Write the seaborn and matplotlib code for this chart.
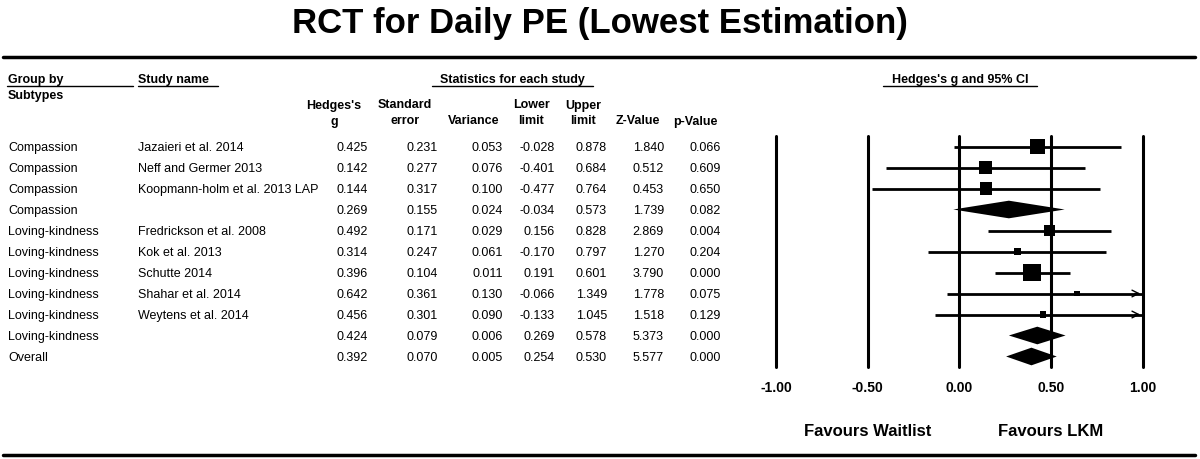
import pandas as pd
import matplotlib.pyplot as plt
import seaborn as sns

# Datos del forest plot
groups = ["Compassion"] * 4 + ["Loving-kindness"] * 6 + ["Overall"]
studies = ["Jazaieri et al. 2014", "Neff and Germer 2013", "Koopmann-holm et al. 2013 LAP", "",
           "Fredrickson et al. 2008", "Kok et al. 2013", "Schutte 2014", "Shahar et al. 2014",
           "Weytens et al. 2014", "", ""]
hedges_g = [0.425, 0.142, 0.144, 0.269, 0.492, 0.314, 0.396, 0.642, 0.456, 0.424, 0.392]
std_err = [0.231, 0.277, 0.317, 0.155, 0.171, 0.247, 0.104, 0.361, 0.301, 0.079, 0.070]
variance = [0.053, 0.076, 0.100, 0.024, 0.029, 0.061, 0.011, 0.130, 0.090, 0.006, 0.005]
lower = [-0.028, -0.401, -0.477, -0.034, 0.156, -0.170, 0.191, -0.066, -0.133, 0.269, 0.254]
upper = [0.878, 0.684, 0.764, 0.573, 0.828, 0.797, 0.601, 1.349, 1.045, 0.578, 0.530]
z_value = [1.840, 0.512, 0.453, 1.739, 2.869, 1.270, 3.790, 1.778, 1.518, 5.373, 5.577]
p_value = [0.066, 0.609, 0.650, 0.082, 0.004, 0.204, 0.000, 0.075, 0.129, 0.000, 0.000]
is_summary = [False, False, False, True, False, False, False, False, False, True, True]
rel_weight = [41, 31, 28, 0, 22, 9, 57, 6, 7, 0, 0]
axis_ticks = [-1.0, -0.5, 0.0, 0.5, 1.0]

df = pd.DataFrame({
    "row": range(len(groups)), "group": groups, "study": studies, "g": hedges_g,
    "se": std_err, "var": variance, "lo": lower, "hi": upper, "z": z_value,
    "p": p_value, "summary": is_summary, "w": rel_weight,
})

sns.set_theme(style="white")
plt.rcParams['font.family'] = ['Liberation Sans', 'DejaVu Sans']
plt.rcParams['text.color'] = 'black'
plt.rcParams['xtick.color'] = 'black'

W, H = 1200, 459
fig = plt.figure(figsize=(12, 4.59), dpi=100)

# Capa de fondo en pixeles para textos y lineas
bg = fig.add_axes([0, 0, 1, 1])
bg.set_xlim(0, W)
bg.set_ylim(H, 0)
bg.axis('off')

bg.text(600, 24, "RCT for Daily PE (Lowest Estimation)", ha='center', va='center',
        fontsize=25, fontweight='bold')
bg.plot([3, 1195], [57, 57], color='black', lw=2.5)
bg.plot([3, 1195], [455, 455], color='black', lw=2.5)

# Encabezados
hdr = dict(fontsize=9, fontweight='bold', va='center_baseline')
bg.text(8, 78, "Group by", ha='left', **hdr)
bg.text(8, 94, "Subtypes", ha='left', **hdr)
bg.plot([7, 133], [86, 86], color='black', lw=1)
bg.text(138, 78, "Study name", ha='left', **hdr)
bg.plot([138, 218], [86, 86], color='black', lw=1)
bg.text(512, 78, "Statistics for each study", ha='center', **hdr)
bg.plot([432, 593], [86, 86], color='black', lw=1)
bg.text(960, 78, "Hedges's g and 95% CI", ha='center', **hdr)
bg.plot([883, 1037], [86, 86], color='black', lw=1)

col_heads = [("Hedges's", "g", 334), ("Standard", "error", 405), ("", "Variance", 474),
             ("Lower", "limit", 531), ("Upper", "limit", 583), ("", "Z-Value", 638),
             ("", "p-Value", 695)]
for top, bot, xc in col_heads:
    bg.text(xc, 104, top, ha='center', **hdr)
    bg.text(xc, 120, bot, ha='center', **hdr)

# Filas de la tabla
row_y0, row_h = 146.5, 21
col_right = [368, 438, 503, 555, 607, 664, 721]
for _, r in df.iterrows():
    y = row_y0 + r["row"] * row_h
    bg.text(8, y, r["group"], ha='left', va='center_baseline', fontsize=9)
    bg.text(138, y, r["study"], ha='left', va='center_baseline', fontsize=9)
    vals = [r["g"], r["se"], r["var"], r["lo"], r["hi"], r["z"], r["p"]]
    for xr, v in zip(col_right, vals):
        bg.text(xr, y, f"{v:.3f}", ha='right', va='center_baseline', fontsize=9)

# Forest plot
n = len(df)
fax = fig.add_axes([776 / W, (H - 367) / H, (1143 - 776) / W, (367 - 136) / H])
fax.set_xlim(-1, 1)
fax.set_ylim(n - 0.5, -0.5)
fax.patch.set_alpha(0)
for s in fax.spines.values():
    s.set_visible(False)

for t in axis_ticks:
    fax.axvline(t, color='black', lw=2.2, clip_on=False, zorder=1)

st = df[~df["summary"]]
for _, r in st.iterrows():
    hi = min(r["hi"], axis_ticks[-1])
    fax.hlines(r["row"], r["lo"], hi, color='black', lw=2, zorder=2)
    if r["hi"] > axis_ticks[-1]:
        fax.annotate("", xy=(hi, r["row"]), xytext=(hi - 0.06, r["row"]),
                     arrowprops=dict(arrowstyle='->', color='black', lw=1,
                                     mutation_scale=12), annotation_clip=False)

sns.scatterplot(data=st, x="g", y="row", size="w", sizes=(17, 156), size_norm=(6, 57),
                marker='s', color='black', edgecolor='black', linewidth=0,
                legend=False, ax=fax, zorder=3)

sm = df[df["summary"]]
for _, r in sm.iterrows():
    fax.fill([r["lo"], r["g"], r["hi"], r["g"]],
             [r["row"], r["row"] - 0.42, r["row"], r["row"] + 0.42],
             color='black', lw=0, zorder=3)

fax.set_xticks(axis_ticks)
fax.set_xticklabels([f"{t:.2f}" for t in axis_ticks], fontsize=10, fontweight='bold')
fax.tick_params(axis='x', length=0, pad=10)
fax.set_yticks([])
fax.set_xlabel("")
fax.set_ylabel("")

bg.text(868, 432, "Favours Waitlist", ha='center', va='center', fontsize=12, fontweight='bold')
bg.text(1051, 432, "Favours LKM", ha='center', va='center', fontsize=12, fontweight='bold')

plt.savefig("out.png", dpi=100)
